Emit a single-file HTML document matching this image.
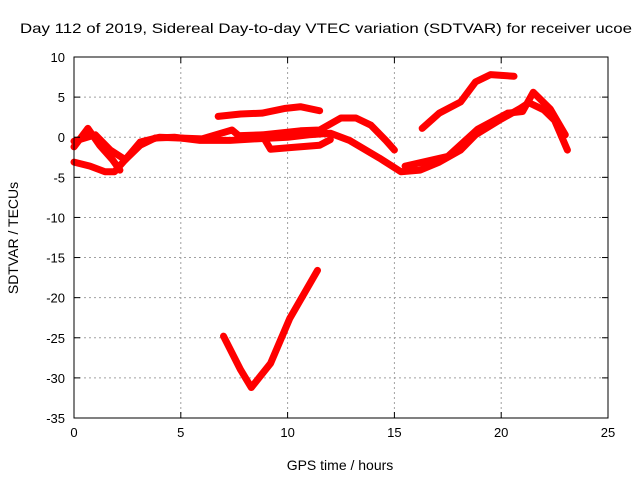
<!DOCTYPE html>
<html><head><meta charset="utf-8"><style>
body{margin:0;background:#fff}
text{font-family:"Liberation Sans",sans-serif;fill:#000}
</style></head><body>
<svg id="c" width="640" height="480">
<text x="326" y="33" font-size="14" text-anchor="middle" textLength="612" lengthAdjust="spacingAndGlyphs">Day 112 of 2019, Sidereal Day-to-day VTEC variation (SDTVAR) for receiver ucoe</text>
<text x="340" y="470" font-size="14" text-anchor="middle">GPS time / hours</text>
<text transform="translate(18,238) rotate(-90)" font-size="14" text-anchor="middle">SDTVAR / TECUs</text>
<g id="grid"></g><g id="series"></g><g id="axes"></g>
</svg>
<script>
const xTicks=[0,5,10,15,20,25];
const yTicks=[10,5,0,-5,-10,-15,-20,-25,-30,-35];
const s1=[[6.75,2.6],[7.8,2.9],[8.8,3.0],[9.9,3.6],[10.6,3.8],[11.5,3.3]];
const s2=[[7.0,-24.8],[7.8,-29.0],[8.3,-31.2],[9.2,-28.2],[10.1,-22.6],[11.4,-16.6]];
const s3=[[0,-3.1],[0.75,-3.6],[1.45,-4.3],[1.9,-4.3],[2.4,-2.8],[3.1,-1.0],[3.8,-0.1],[4.7,0],[5.9,-0.4],[7.3,-0.4],[8.5,-0.2],[10,0],[11,0.3],[12,0.5],[12.9,-0.4],[14.3,-2.6],[15.3,-4.3],[16.2,-4.1],[17.1,-3.1],[18.1,-1.6],[18.8,0.3],[19.9,2.1],[20.9,3.6],[21.3,4.3],[22,3.4],[22.5,2.1],[23.1,-1.6]];
const s4=[[0,-1.2],[0.65,1.1],[1.2,-1],[1.8,-2.8],[2.15,-4.1]];
const s5=[[0,-0.5],[1,0.3],[1.7,-1.6],[2.4,-2.8],[3.1,-0.6],[4,0],[6,-0.2],[7.4,0.9],[7.8,0]];
const s6=[[7.8,0.2],[8.8,0.3],[9.2,-1.5],[10.1,-1.3],[11.5,-1],[12,-0.3]];
const s7=[[8.5,0.2],[10.6,0.8],[11.5,0.9],[12.5,2.4],[13.2,2.4],[13.9,1.5],[14.6,-0.4],[15,-1.6]];
const s8=[[16.3,1.1],[17.1,3.0],[18.1,4.4],[18.8,6.9],[19.5,7.8],[20.6,7.6]];
const s9=[[15.5,-3.6],[17.5,-2.4],[18.9,1.0],[20.3,3.0],[21.0,3.2],[21.5,5.6],[22.3,3.5],[23.0,0.3]];
const allSeries=[s1,s2,s3,s4,s5,s6,s7,s8,s9];
const L=74,R=608,T=57,B=418;
const xs=v=>L+(v-0)/25*(R-L), ys=v=>T+(10-v)/45*(B-T);
const NS="http://www.w3.org/2000/svg";
function mk(t,a,p){const e=document.createElementNS(NS,t);for(const k in a)e.setAttribute(k,a[k]);p.appendChild(e);return e;}
const g=document.getElementById('grid'),ax=document.getElementById('axes'),se=document.getElementById('series');
xTicks.forEach(v=>{
 if(v>0&&v<25){const l=mk('line',{x1:xs(v),x2:xs(v),y1:T,y2:B,stroke:'#a0a0a0','stroke-dasharray':'2,3'},g);
 
 }
 mk('line',{x1:xs(v),x2:xs(v),y1:B,y2:B-6,stroke:'#000'},ax);
 mk('line',{x1:xs(v),x2:xs(v),y1:T,y2:T+6,stroke:'#000'},ax);
 const t=mk('text',{x:xs(v),y:B+19,'font-size':13,'text-anchor':'middle'},ax);t.textContent=v;
 
 
});
yTicks.forEach(v=>{
 if(v<10&&v>-35){const l=mk('line',{x1:L,x2:R,y1:ys(v),y2:ys(v),stroke:'#a0a0a0','stroke-dasharray':'2,3'},g);
 
 }
 mk('line',{x1:L,x2:L+6,y1:ys(v),y2:ys(v),stroke:'#000'},ax);
 mk('line',{x1:R,x2:R-6,y1:ys(v),y2:ys(v),stroke:'#000'},ax);
 const t=mk('text',{x:L-9,y:ys(v)+5,'font-size':13,'text-anchor':'end'},ax);t.textContent=v;
 
 
});
const fr=mk('rect',{x:L,y:T,width:R-L,height:B-T,fill:'none',stroke:'#000'},ax);


allSeries.forEach((s,i)=>{
 const p=mk('polyline',{points:s.map(d=>xs(d[0])+','+ys(d[1])).join(' '),fill:'none',stroke:'#f00','stroke-width':7,'stroke-linejoin':'round','stroke-linecap':'round'},se);
 
 
});
</script>
</body></html>
